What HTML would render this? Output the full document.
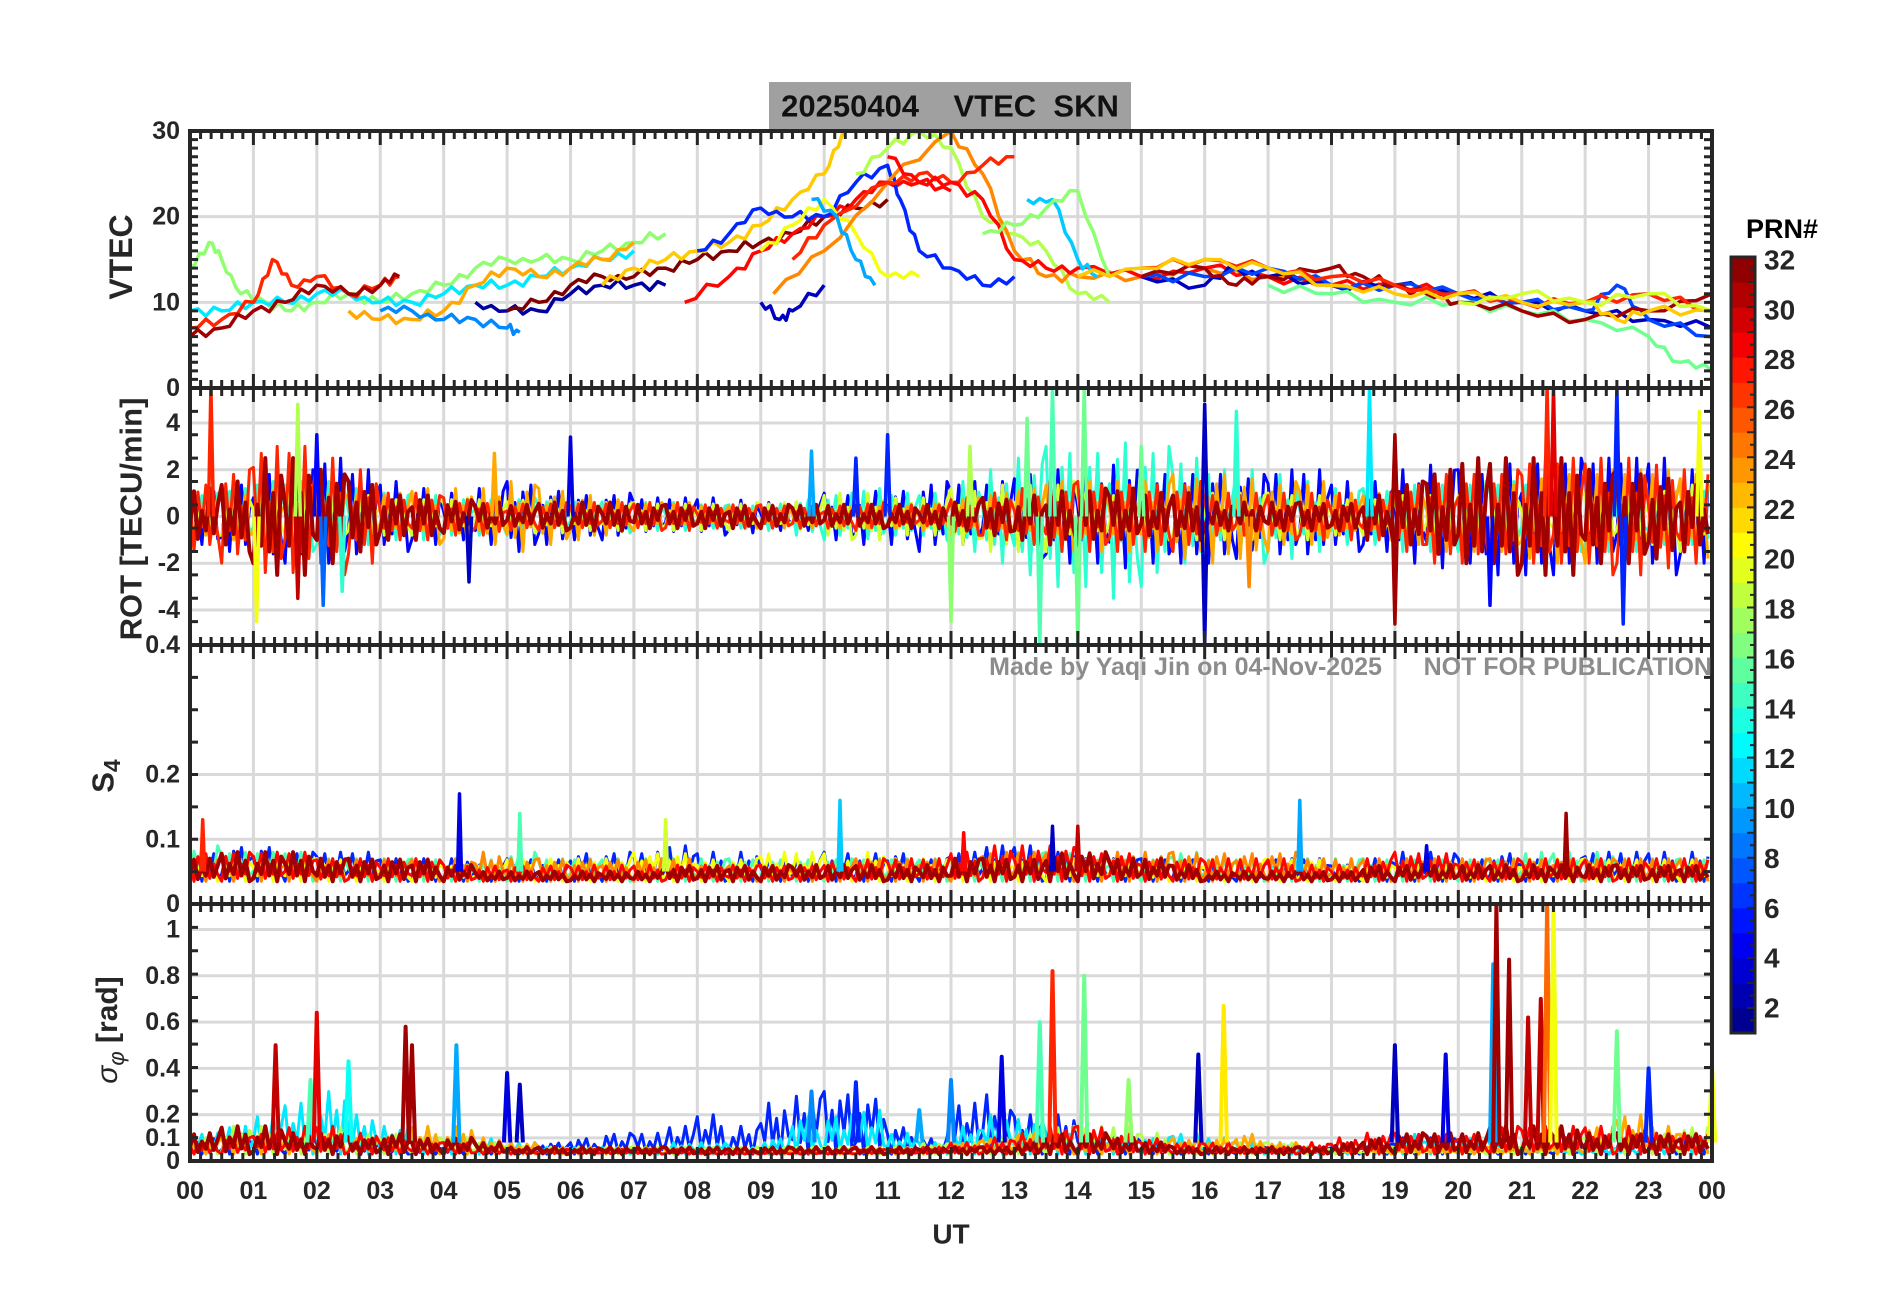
<!DOCTYPE html>
<html><head><meta charset="utf-8">
<style>
html,body{margin:0;padding:0;background:#fff;}
svg{display:block;font-family:"Liberation Sans",Arial,sans-serif;font-weight:bold;}
</style></head>
<body>
<svg id="fig" width="1902" height="1292" viewBox="0 0 1902 1292" xmlns="http://www.w3.org/2000/svg">
<rect width="1902" height="1292" fill="#fff"/>
<g id="grid"></g>
<g id="marks"></g>
<g id="axes"></g>
<g id="labels"></g>
<g id="cbar"></g>
</svg>
<script>
// ---------------- data ----------------
const vtecPRN = [17,12,23,9,27,31,2,32,28,22,6,20,18,24,27,28,11,17,3,10,3,7,16,31,27,22,19];
const vtecT = [
 [0,0.3,0.5,0.8,1.2,1.6,2,2.5,3,3.5,4,4.5,5,5.5,6,6.5,7,7.5],
 [0,0.5,1,1.5,2,2.5,3,3.5,4,4.5,5,5.5,6,6.5,7],
 [2.5,3,3.5,4,4.5,5,5.5,6,6.5,7],
 [3,3.5,4,4.5,5,5.2],
 [0,0.5,1,1.3,1.6,2,2.5,3,3.3],
 [0,0.5,1,1.5,2,2.5,3,3.3],
 [4.5,5,5.5,6,6.5,7,7.5],
 [5,5.5,6,6.5,7,7.5,8,8.5,9,9.5,10,10.5,11],
 [7.8,8.5,9,9.5,10,10.5,11,11.5,12],
 [6.5,7,7.5,8,8.5,9,9.5,10,10.3],
 [8,8.5,9,9.5,10,10.5,11,11.2,11.5,12,12.5,13],
 [9,9.5,10,10.5,11,11.5],
 [10.5,11,11.5,12,12.5,13,13.5,14,14.5],
 [9.2,10,11,12,12.5,13,13.5,14,15,16,17,18],
 [9.5,10,11,11.5,12,12.5,13],
 [11,11.5,12,12.5,13,13.5,14,15,16,17,18,19,20],
 [13.2,13.6,14,14.3],
 [12.5,13,13.5,14,14.5],
 [9,9.3,9.5,10],
 [9.8,10.2,10.5,10.8],
 [15,16,16.5,17,18,19,20,21,22,23,24],
 [15,16,17,18,19,20,21,22,22.5,23,24],
 [17,18,19,20,21,22,23,23.5,24],
 [15,16,16.5,17,18,18.5,19,19.5,20,21,22,23,24],
 [15,16,17,18,19,20,21,22,23,24],
 [14,15,16,17,18,19,20,21,22,22.5,23,24],
 [20,21,22,23,24]
];
const vtecV = [
 [14,17,15,11,10,9,10,11,10,11,12,14,15,15,15,16,17,18],
 [9,9,10,10,11,11,10,10,11,12,12,13,14,15,16],
 [9,8,8,9,12,14,13,14,15,17],
 [9,9,8,8,7,6.5],
 [7,8,10,15,12,13,11,12,13],
 [6,7,9,10,12,11,12,13],
 [10,9,9,11,12,12,12],
 [9,10,12,13,13,14,15,16,17,18,20,21,22],
 [10,13,16,18,20,22,24,24,23],
 [12,14,15,16,17,19,22,25,30],
 [16,18,21,20,20,24,26,22,16,14,12,13],
 [16,19,22,18,13,13],
 [25,28,30,28,20,18,16,11,10],
 [11,16,24,30,25,16,13,13,13,14,13,12],
 [15,19,24,25,24,26,27],
 [27,24,24,22,15,14,14,13,14,13,12,12,11],
 [22,22,15,13],
 [18,19,21,23,13],
 [10,8,9,12],
 [22,20,15,12],
 [13,12,14,13,12,12,11,10,9,8,7],
 [13,13,14,12,12,11,10,9,12,8,6],
 [12,11,10,10,9,8,6,3,2],
 [13,14,12,13,14,13,12,11,10,9,8,9,11],
 [14,15,14,13,12,11,10,10,11,9],
 [13,14,15,14,12,11,11,10,10,8,9,9],
 [10,11,10,11,9]
];
const rotPRN = [5,14,19,23,27,31];
const rotAmp = [
 [1.2,1.5,2,2,2.5,2,1.5,1.2, 1,1.2,1.5,1.2, 1,1,0.8,0.8, 0.8,0.7,0.6,0.6, 1,1.2,1.2,1.5, 1.5,1.5,1.8,2, 2,2.2,2,2, 2,1.8,2,2, 1.5,1.5,2,2.2, 2,2.5,2.5,2.5, 2.5,2.5,2.5,2],
 [1,1.2,1.5,1.5,1.5,1.2,1,1, 0.8,0.8,0.8,0.7, 0.7,0.7,0.6,0.6, 0.5,0.5,0.6,0.8, 1,1.2,1,1, 1.5,2,2.5,3, 3,3.5,3,2.5, 2,2,1.8,1.5, 1.2,1.2,1.5,1.5, 1.5,1.5,1.5,1.5, 1.5,1.5,1.2,1.2],
 [0.8,1,1.5,1.5,1,1,0.8,0.8, 0.8,0.8,0.7,0.7, 0.6,0.6,0.6,0.6, 0.6,0.6,0.6,0.7, 1,1,0.8,0.8, 1.2,1.5,1.5,1.5, 1.2,1,1,1, 1,1,1,1, 0.8,0.8,1,1, 1,1,1,1, 1,1,1.2,1.5],
 [0.8,1,1.2,1.2,1,1,1,1.2, 1.2,1.2,1.5,1.2, 1,0.8,0.6,0.6, 0.5,0.5,0.5,0.5, 0.5,0.5,0.5,0.6, 0.8,1,1.2,1.5, 1.5,1.5,1.5,1.8, 2,1.8,1.5,1.5, 1,1,1.2,1.5, 1.5,1.5,1.8,2, 2,2,2,1.8],
 [1.5,2,3,3,2.5,2,1,1, 0.8,0.8,0.6,0.6, 0.6,0.6,0.6,0.6, 0.5,0.5,0.5,0.5, 0.5,0.6,0.5,0.5, 0.8,1,1.2,1.5, 1.5,1.5,1.5,1.5, 1,1,1,1, 1,1,1.5,2, 2,2,2.5,2.5, 2.5,2.5,2.2,2],
 [1.2,1.5,2.5,2.5,2,1.5,1,1, 0.7,0.6,0.5,0.6, 0.6,0.6,0.5,0.5, 0.5,0.5,0.5,0.5, 0.5,0.5,0.5,0.5, 0.6,0.8,1,1.2, 1.2,1.2,1,1, 0.6,0.6,0.6,0.6, 0.6,1,1.5,2, 2.5,2.5,2.5,2.5, 2,2,1.8,1.5]
];
const rotSpikeT = [0.33,1.05,1.7,1.7,2.0,2.1,2.4,4.4,4.8,6.0,9.8,10.5,11.0,12.0,12.3,13.2,13.4,13.6,14.0,14.1,15.0,16.0,16.0,16.5,16.7,18.6,19.0,19.0,20.5,21.4,21.5,22.5,22.6,23.8];
const rotSpikeV = [5.5,-4.5,4.8,-3.5,3.5,-3.8,-3.2,-2.8,2.7,3.4,2.8,2.5,3.5,-4.5,3.0,4.2,-5.5,5.5,-5.5,5.5,3.0,4.8,-5.5,4.5,-3.0,5.5,3.5,-4.6,-3.8,5.5,5.5,5.5,-4.6,4.5];
const rotSpikeP = [27,20,18,30,5,8,14,3,23,4,10,6,6,17,18,16,15,15,16,16,16,3,3,14,24,12,31,31,5,27,29,6,6,20];
const s4PRN = [6,15,20,24,28,31];
const s4Hi = [
 [0.08,0.09,0.09,0.08,0.08,0.08,0.07,0.07, 0.07,0.06,0.07,0.07, 0.08,0.08,0.08,0.09, 0.08,0.08,0.07,0.07, 0.08,0.08,0.08,0.07, 0.08,0.09,0.09,0.08, 0.07,0.07,0.07,0.07, 0.06,0.06,0.07,0.07, 0.06,0.07,0.08,0.08, 0.07,0.08,0.07,0.07, 0.08,0.08,0.08,0.08],
 [0.09,0.08,0.08,0.08,0.07,0.07,0.07,0.07, 0.06,0.07,0.08,0.07, 0.07,0.07,0.07,0.07, 0.07,0.07,0.07,0.07, 0.07,0.07,0.07,0.07, 0.07,0.07,0.08,0.08, 0.07,0.07,0.07,0.08, 0.07,0.07,0.07,0.07, 0.07,0.07,0.07,0.07, 0.07,0.07,0.08,0.08, 0.08,0.07,0.07,0.07],
 [0.07,0.07,0.07,0.07,0.07,0.06,0.06,0.06, 0.06,0.06,0.07,0.07, 0.07,0.07,0.08,0.08, 0.07,0.07,0.08,0.08, 0.08,0.08,0.07,0.07, 0.07,0.07,0.07,0.07, 0.07,0.07,0.06,0.06, 0.07,0.07,0.07,0.07, 0.06,0.06,0.06,0.06, 0.06,0.06,0.07,0.07, 0.07,0.07,0.07,0.07],
 [0.07,0.07,0.07,0.07,0.07,0.07,0.07,0.07, 0.07,0.08,0.07,0.07, 0.07,0.07,0.07,0.07, 0.06,0.06,0.06,0.06, 0.06,0.07,0.07,0.07, 0.07,0.08,0.08,0.08, 0.08,0.08,0.08,0.08, 0.08,0.08,0.08,0.07, 0.07,0.07,0.07,0.07, 0.07,0.07,0.07,0.07, 0.07,0.07,0.07,0.07],
 [0.08,0.08,0.08,0.08,0.07,0.07,0.07,0.07, 0.06,0.06,0.06,0.06, 0.06,0.06,0.06,0.06, 0.06,0.06,0.06,0.06, 0.07,0.07,0.07,0.07, 0.08,0.09,0.09,0.09, 0.08,0.08,0.07,0.07, 0.07,0.07,0.07,0.06, 0.06,0.07,0.08,0.08, 0.07,0.07,0.07,0.07, 0.07,0.07,0.07,0.07],
 [0.07,0.08,0.08,0.08,0.07,0.07,0.07,0.07, 0.06,0.05,0.05,0.05, 0.05,0.05,0.05,0.06, 0.06,0.06,0.06,0.06, 0.06,0.06,0.06,0.06, 0.07,0.07,0.07,0.08, 0.08,0.07,0.07,0.06, 0.05,0.05,0.05,0.05, 0.05,0.06,0.06,0.06, 0.06,0.06,0.06,0.06, 0.06,0.06,0.06,0.06]
];
const s4SpikeT = [0.2,4.25,5.2,7.5,10.25,12.2,13.6,14.0,17.5,19.5,21.7];
const s4SpikeV = [0.13,0.17,0.14,0.13,0.16,0.11,0.12,0.12,0.16,0.09,0.14];
const s4SpikeP = [27,4,15,19,11,28,3,30,10,4,31];
const sigPRN = [6,12,18,23,28,31];
const sigHi = [
 [0.1,0.12,0.1,0.1,0.08,0.08,0.07,0.06, 0.06,0.06,0.05,0.08, 0.1,0.12,0.12,0.15, 0.2,0.15,0.25,0.28, 0.3,0.28,0.15,0.1, 0.25,0.3,0.2,0.2, 0.12,0.1,0.08,0.06, 0.06,0.06,0.06,0.06, 0.06,0.08,0.1,0.1, 0.08,0.06,0.06,0.06, 0.08,0.1,0.1,0.12],
 [0.12,0.15,0.2,0.25,0.3,0.2,0.15,0.1, 0.12,0.1,0.08,0.06, 0.06,0.06,0.06,0.08, 0.08,0.06,0.1,0.2, 0.2,0.22,0.12,0.08, 0.15,0.2,0.18,0.12, 0.1,0.1,0.1,0.12, 0.1,0.08,0.08,0.06, 0.06,0.08,0.12,0.1, 0.1,0.08,0.06,0.06, 0.06,0.06,0.08,0.1],
 [0.1,0.15,0.15,0.12,0.15,0.12,0.12,0.1, 0.1,0.08,0.06,0.06, 0.06,0.06,0.06,0.06, 0.06,0.06,0.06,0.06, 0.06,0.06,0.06,0.08, 0.08,0.1,0.12,0.15, 0.15,0.15,0.12,0.08, 0.08,0.08,0.08,0.06, 0.06,0.06,0.06,0.06, 0.06,0.06,0.08,0.1, 0.1,0.12,0.12,0.15],
 [0.08,0.1,0.1,0.1,0.12,0.1,0.1,0.15, 0.15,0.1,0.08,0.06, 0.06,0.06,0.06,0.05, 0.05,0.05,0.05,0.05, 0.06,0.06,0.06,0.06, 0.08,0.1,0.12,0.1, 0.08,0.08,0.08,0.1, 0.1,0.12,0.08,0.06, 0.06,0.06,0.06,0.06, 0.06,0.06,0.06,0.08, 0.15,0.2,0.15,0.12],
 [0.08,0.1,0.12,0.15,0.15,0.12,0.1,0.08, 0.08,0.06,0.05,0.05, 0.05,0.05,0.05,0.05, 0.04,0.04,0.04,0.04, 0.04,0.05,0.05,0.06, 0.08,0.1,0.12,0.15, 0.15,0.12,0.1,0.08, 0.08,0.06,0.06,0.08, 0.1,0.12,0.12,0.12, 0.12,0.15,0.15,0.15, 0.15,0.15,0.12,0.12],
 [0.12,0.15,0.15,0.12,0.12,0.1,0.12,0.1, 0.1,0.08,0.06,0.06, 0.06,0.06,0.06,0.06, 0.06,0.06,0.06,0.06, 0.06,0.06,0.06,0.06, 0.06,0.06,0.08,0.12, 0.12,0.1,0.08,0.06, 0.06,0.06,0.06,0.06, 0.08,0.1,0.12,0.12, 0.12,0.15,0.15,0.15, 0.12,0.12,0.12,0.12]
];
const sigSpikeT = [1.35,1.9,2.0,2.5,3.4,3.5,4.2,5.0,5.2,9.8,10.5,11.5,12.0,12.8,13.4,13.6,14.1,14.8,15.9,16.3,19.0,19.8,20.55,20.6,20.8,21.1,21.3,21.4,21.5,22.5,23.0,24.0];
const sigSpikeV = [0.5,0.35,0.64,0.43,0.58,0.5,0.5,0.38,0.33,0.3,0.34,0.22,0.35,0.45,0.6,0.82,0.8,0.35,0.46,0.67,0.5,0.46,0.85,1.1,0.87,0.62,0.7,1.1,1.1,0.56,0.4,0.42];
const sigSpikeP = [30,15,29,13,31,31,10,4,3,9,6,10,9,4,15,27,16,17,3,21,3,4,10,31,31,30,30,25,20,16,6,20];
const xTickLabels = ["00","01","02","03","04","05","06","07","08","09","10","11","12","13","14","15","16","17","18","19","20","21","22","23","00"];
const vtecTicks = [0,10,20,30];
const rotTicks = [-4,-2,0,2,4];
const s4Ticks = [0,0.1,0.2,0.4];
const s4TickLabels = ["0","0.1","0.2","0.4"];
const sigTicks = [0,0.1,0.2,0.4,0.6,0.8,1];
const sigTickLabels = ["0","0.1","0.2","0.4","0.6","0.8","1"];
const cbarTicks = [2,4,6,8,10,12,14,16,18,20,22,24,26,28,30,32];

// ---------------- layout ----------------
const NS="http://www.w3.org/2000/svg";
const X0=190, X1=1712;
const P = {
 vtec:{top:131,bot:388,min:0,max:30},
 rot:{top:388,bot:645,min:-5.5,max:5.5},
 s4:{top:645,bot:904,min:0,max:0.4},
 sig:{top:904,bot:1161,min:0,max:1.11}
};
const xs = t => X0 + t/24*(X1-X0);
const ys = (p,v) => { v=Math.max(p.min,Math.min(p.max,v)); return p.bot - (v-p.min)/(p.max-p.min)*(p.bot-p.top); };
function jet(prn){
  const v=(prn-1)/31;
  const r=Math.min(1,Math.max(0,1.5-Math.abs(4*v-3)));
  const g=Math.min(1,Math.max(0,1.5-Math.abs(4*v-2)));
  const b=Math.min(1,Math.max(0,1.5-Math.abs(4*v-1)));
  return `rgb(${Math.round(r*255)},${Math.round(g*255)},${Math.round(b*255)})`;
}
function el(parent,tag,attrs,text){
  const e=document.createElementNS(NS,tag);
  for(const k in attrs) e.setAttribute(k,attrs[k]);
  if(text!==undefined) e.textContent=text;
  parent.appendChild(e); return e;
}
const gGrid=document.getElementById('grid'), gMarks=document.getElementById('marks'),
      gAxes=document.getElementById('axes'), gLab=document.getElementById('labels'), gC=document.getElementById('cbar');

for(const key in P){
  const p=P[key];
  for(let h=1;h<24;h++){
    const ln=el(gGrid,'line',{x1:xs(h),x2:xs(h),y1:p.top,y2:p.bot,stroke:'#d9d9d9','stroke-width':3});
    
    
  }
}
const yGridSets={vtec:[10,20],rot:[-4,-2,0,2,4],s4:[0.1,0.2],sig:[0.1,0.2,0.4,0.6,0.8,1]};
for(const key in yGridSets){
  for(const v of yGridSets[key]){
    const ln=el(gGrid,'line',{x1:X0,x2:X1,y1:ys(P[key],v),y2:ys(P[key],v),stroke:'#d9d9d9','stroke-width':3});
    
    
  }
}

function poly(pts,color,w,name){
  const pl=el(gMarks,'polyline',{points:pts.map(p=>p[0].toFixed(1)+','+p[1].toFixed(1)).join(' '),fill:'none',stroke:color,'stroke-width':w,'stroke-linejoin':'round'});
  
  
}
const pat=[1,-0.6,0.4,-1,0.7,-0.3,0.9,-0.8,0.2,-0.5];

vtecPRN.forEach((prn,i)=>{
  const pts=[];
  const T=vtecT[i],V=vtecV[i];
  for(let j=0;j<T.length;j++){
    pts.push([xs(T[j]),ys(P.vtec,V[j])]);
    if(j<T.length-1){
      for(let k=1;k<4;k++){
        const f=k/4;
        const tm=T[j]+(T[j+1]-T[j])*f, vm=V[j]+(V[j+1]-V[j])*f;
        pts.push([xs(tm),ys(P.vtec,vm+0.6*pat[(i+j*3+k)%10])]);
      }
    }
  }
  poly(pts,jet(prn),3.5,'vtec-arc-prn'+prn);
});

rotPRN.forEach((prn,g)=>{
  const pts=[];
  rotAmp[g].forEach((a,i)=>{
    for(let k=0;k<8;k++){
      const t=(i+k/8)*0.5;
      pts.push([xs(t),ys(P.rot,a*pat[(k+g*3+i)%10])]);
    }
  });
  poly(pts,jet(prn),g==5?4:3,'rot-trace-prn'+prn);
});
rotSpikeT.forEach((t,i)=>{
  poly([[xs(t-0.04),ys(P.rot,0)],[xs(t),ys(P.rot,rotSpikeV[i])],[xs(t+0.04),ys(P.rot,0)]],jet(rotSpikeP[i]),3.5,'rot-spike');
});

s4PRN.forEach((prn,g)=>{
  const pts=[];
  s4Hi[g].forEach((h,i)=>{
    for(let k=0;k<8;k++){
      const t=(i+k/8)*0.5;
      const lo=0.035;
      const f=(pat[(k+g*3+i)%10]+1)/2;
      pts.push([xs(t),ys(P.s4,lo+(h-lo)*f)]);
    }
  });
  poly(pts,jet(prn),g==5?4:3,'s4-trace-prn'+prn);
});
s4SpikeT.forEach((t,i)=>{
  poly([[xs(t-0.03),ys(P.s4,0.05)],[xs(t),ys(P.s4,s4SpikeV[i])],[xs(t+0.03),ys(P.s4,0.05)]],jet(s4SpikeP[i]),3.5,'s4-spike');
});

sigPRN.forEach((prn,g)=>{
  const pts=[];
  sigHi[g].forEach((h,i)=>{
    for(let k=0;k<8;k++){
      const t=(i+k/8)*0.5;
      const lo=0.03;
      const f=(pat[(k+g*3+i)%10]+1)/2;
      pts.push([xs(t),ys(P.sig,lo+(h-lo)*f)]);
    }
  });
  poly(pts,jet(prn),g==5?4:3,'sigma-phi-trace-prn'+prn);
});
sigSpikeT.forEach((t,i)=>{
  poly([[xs(t-0.05),ys(P.sig,0.08)],[xs(t),ys(P.sig,sigSpikeV[i])],[xs(t+0.05),ys(P.sig,0.08)]],jet(sigSpikeP[i]),4,'sigma-phi-spike');
});

const ax='#262626';
for(const key in P){
  const p=P[key];
  const r=el(gAxes,'rect',{x:X0,y:p.top,width:X1-X0,height:p.bot-p.top,fill:'none',stroke:ax,'stroke-width':4});
  
  
  let d='';
  for(let m=0;m<=144;m++){
    const x=xs(m/6), L=(m%6==0)?14:8;
    d+=`M${x},${p.top}v${L}M${x},${p.bot}v${-L}`;
  }
  const nY=key=='vtec'?30:key=='rot'?11:key=='s4'?8:11;
  for(let k=0;k<=nY;k++){
    const y=p.top+(p.bot-p.top)*k/nY;
    d+=`M${X0},${y}h8M${X1},${y}h-8`;
  }
  const pt=el(gAxes,'path',{d:d,stroke:ax,'stroke-width':3,fill:'none'});
  
  
}
function label(x,y,txt,size,anchor,name,extra){
  const t=el(gLab,'text',Object.assign({x:x,y:y,'font-size':size,'text-anchor':anchor,fill:'#262626','dominant-baseline':'central'},extra||{}),txt);
  
  
  return t;
}
xTickLabels.forEach((s,i)=>label(xs(i),1191,s,25,'middle','x-tick-label'));
vtecTicks.forEach(v=>label(180,ys(P.vtec,v),String(v),25,'end','vtec-tick-label'));
rotTicks.forEach(v=>label(180,ys(P.rot,v),String(v),25,'end','rot-tick-label'));
s4Ticks.forEach((v,i)=>label(180,ys(P.s4,v),s4TickLabels[i],25,'end','s4-tick-label'));
sigTicks.forEach((v,i)=>label(180,ys(P.sig,v),sigTickLabels[i],25,'end','sigma-tick-label'));
label(951,1234,'UT',28,'middle','x-axis-title');
label(121,257,'VTEC',32,'middle','vtec-axis-title',{transform:'rotate(-90 121 257)'});
label(131,519,'ROT [TECU/min]',31,'middle','rot-axis-title',{transform:'rotate(-90 131 519)'});
const s4t=label(103,776,'',31,'middle','s4-axis-title',{transform:'rotate(-90 103 776)'});
s4t.innerHTML='S<tspan dy="9" font-size="23">4</tspan>';
const sgt=label(107,1030,'',30,'middle','sigma-axis-title',{transform:'rotate(-90 107 1030)'});
sgt.innerHTML='<tspan font-style="italic" font-weight="normal">σ</tspan><tspan dy="9" font-size="22" font-style="italic" font-weight="normal">φ</tspan><tspan dy="-9"> [rad]</tspan>';
const wm=label(1712,667,'Made by Yaqi Jin on 04-Nov-2025      NOT FOR PUBLICATION',25,'end','watermark',{fill:'#8c8c8c'});
wm.setAttribute('xml:space','preserve');wm.style.whiteSpace='pre';

const tb=el(gLab,'rect',{x:769,y:82,width:362,height:47,fill:'#a0a0a0'});


const tt=label(950,106,'20250404    VTEC  SKN',31,'middle','chart-title',{fill:'#111'});
tt.style.whiteSpace='pre';

const CB={x:1731,w:24,top:257,bot:1033};
const cy=v=>CB.bot-(v-1)/31*(CB.bot-CB.top);
for(let k=1;k<=31;k++){
  const r=el(gC,'rect',{x:CB.x,y:cy(k+1),width:CB.w,height:cy(k)-cy(k+1)+0.5,fill:jet(k+0.5)});
  
  
}
let cd='';
for(let k=1;k<=32;k++){ cd+=`M${CB.x+CB.w},${cy(k)}h-8`; }
for(let k=1;k<32;k+=0.5){ cd+=`M${CB.x+CB.w},${cy(k)}h-5`; }
const cp=el(gC,'path',{d:cd,stroke:ax,'stroke-width':2});


const cf=el(gC,'rect',{x:CB.x,y:CB.top,width:CB.w,height:CB.bot-CB.top,fill:'none',stroke:ax,'stroke-width':3});


const cbY=v=>260+(32-v)/30*(1008-260);
cbarTicks.forEach(v=>label(1764,cbY(v),String(v),28,'start','colorbar-tick-label'));
label(1782,229,'PRN#',27,'middle','colorbar-title',{fill:'#000'});
</script>
</body></html>
